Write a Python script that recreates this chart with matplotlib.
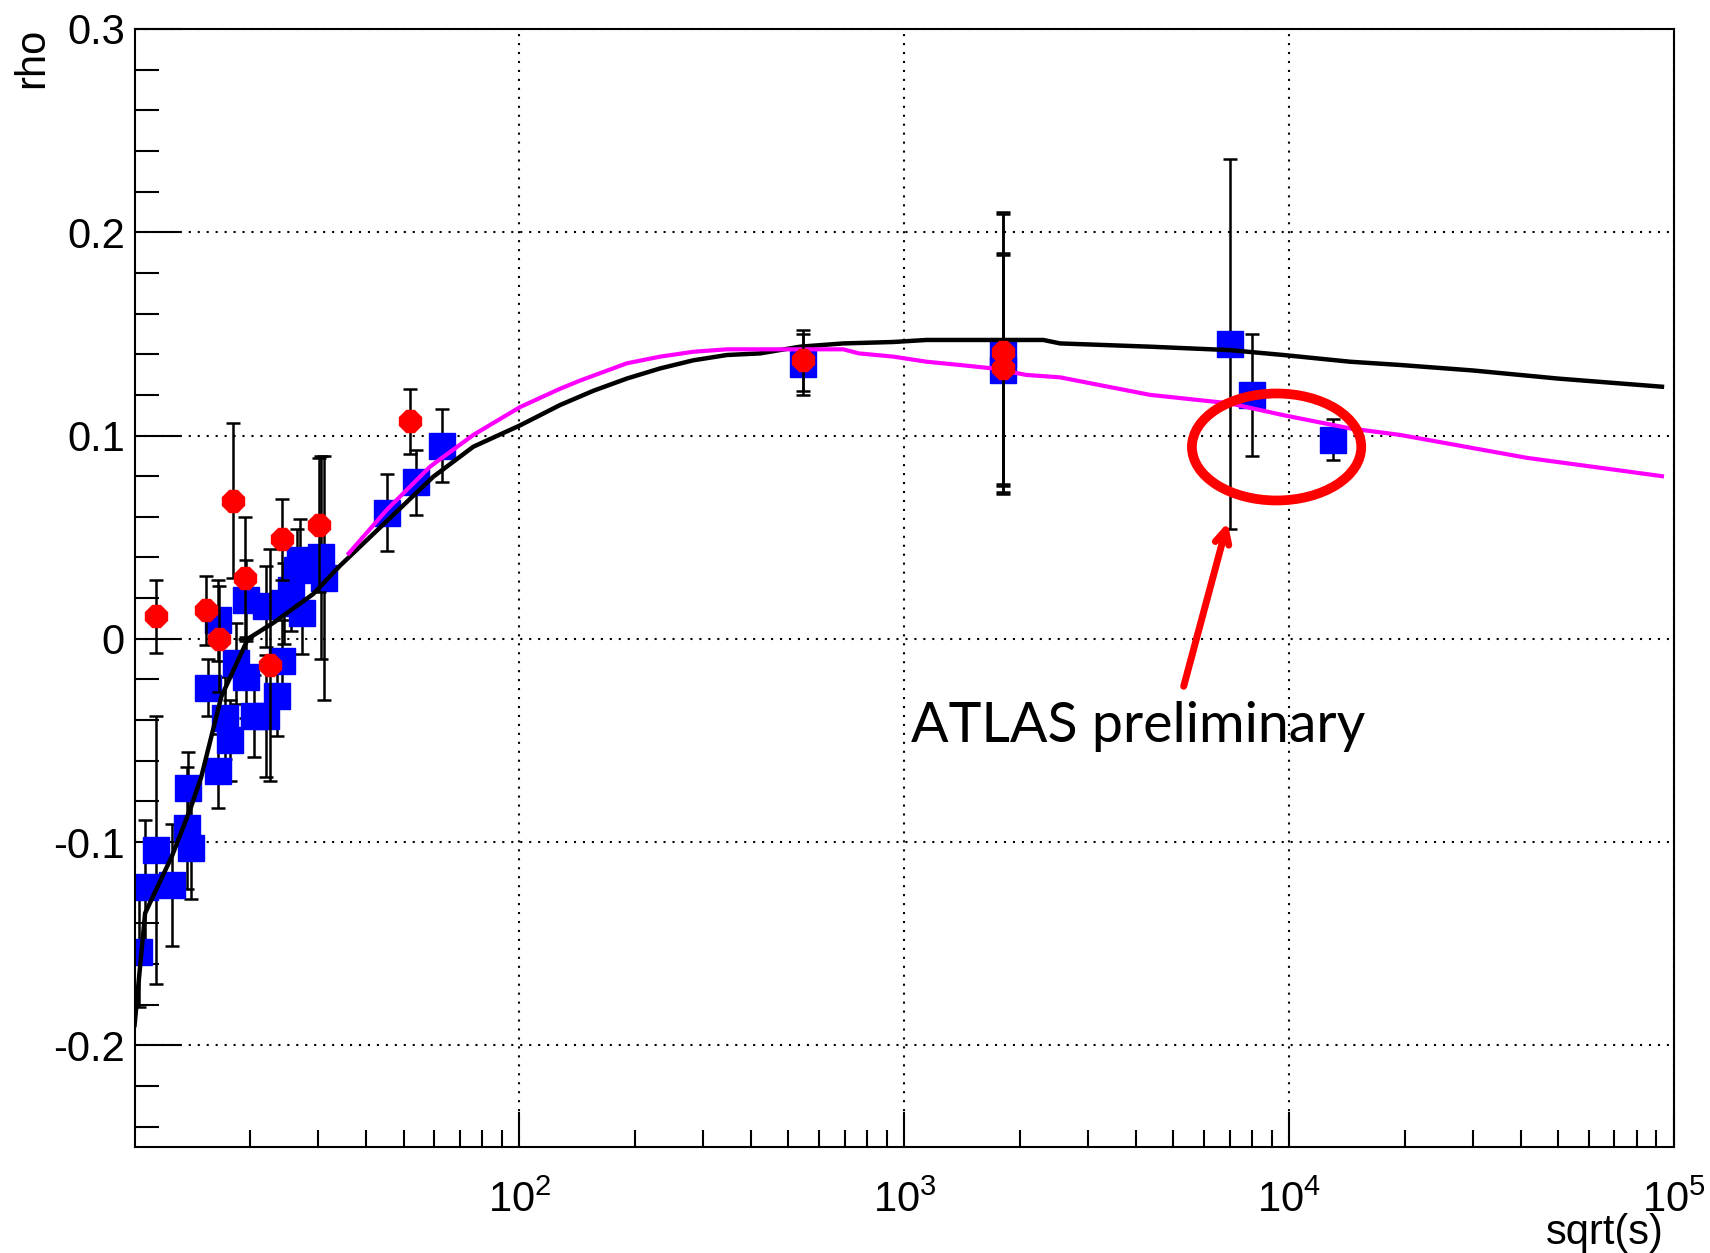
import matplotlib
matplotlib.use("Agg")
import matplotlib.pyplot as plt
from matplotlib.patches import Ellipse
from matplotlib.ticker import FixedLocator, LogLocator, NullFormatter, MultipleLocator

plt.rcParams["font.family"] = ["Liberation Sans", "DejaVu Sans"]
plt.rcParams["mathtext.fontset"] = "custom"
plt.rcParams["mathtext.rm"] = "Liberation Sans"
plt.rcParams["mathtext.it"] = "Liberation Sans:italic"
plt.rcParams["mathtext.bf"] = "Liberation Sans:bold"

# -----------------------------
# pp measurements (blue squares)
# -----------------------------
pp_sqrt_s = [10.24, 10.65, 11.4, 12.5, 13.8, 13.7, 14.0, 15.5, 16.5, 16.5,
             17.2, 17.7, 18.4, 19.5, 19.5, 20.4, 22.0, 22.0, 23.4, 24.1,
             24.4, 25.5, 26.4, 27.2, 26.9, 30.5, 31.0, 45.3, 53.7, 62.8,
             546, 1800, 1800, 7000, 8000, 13000]
pp_rho = [-0.154, -0.122, -0.104, -0.121, -0.0735, -0.093, -0.103, -0.024, -0.065, 0.009,
          -0.039, -0.050, -0.012, -0.019, 0.019, -0.038, -0.038, 0.016, -0.028, -0.011,
          0.0175, 0.024, 0.034, 0.0125, 0.039, 0.040, 0.030, 0.062, 0.077, 0.095,
          0.135, 0.140, 0.132, 0.145, 0.120, 0.098]
pp_err = [0.027, 0.033, 0.066, 0.030, 0.018, 0.030, 0.025, 0.014, 0.018, 0.020,
          0.020, 0.020, 0.020, 0.020, 0.020, 0.020, 0.030, 0.020, 0.020, 0.020,
          0.020, 0.020, 0.020, 0.020, 0.020, 0.050, 0.060, 0.019, 0.016, 0.018,
          0.015, 0.069, 0.057, 0.091, 0.030, 0.010]

# -----------------------------
# pbar-p measurements (red circles)
# -----------------------------
ppbar_sqrt_s = [11.4, 15.3, 16.6, 18.0, 19.4, 22.5, 24.2, 30.1, 52.0, 546, 1800, 1800]
ppbar_rho = [0.011, 0.014, 0.000, 0.068, 0.030, -0.013, 0.049, 0.056, 0.107, 0.137, 0.141, 0.133]
ppbar_err = [0.018, 0.017, 0.026, 0.038, 0.030, 0.057, 0.020, 0.033, 0.016, 0.015, 0.069, 0.057]

# -----------------------------
# Model predictions
# -----------------------------
fit_black_x = [10.0, 10.65, 12.5, 14.0, 14.9, 16.8, 19.7, 23.0, 29.1, 34.2,
               59.7, 75.9, 100.4, 127.5, 155.6, 190, 232, 283, 346, 422,
               536, 694, 936, 1142, 2297, 2540, 4345, 7015, 9660, 14390,
               19400, 30000, 50000, 93000]
fit_black_rho = [-0.19, -0.135, -0.107, -0.083, -0.068, -0.0285, 0.0, 0.008, 0.022, 0.036,
                 0.0797, 0.0945, 0.105, 0.115, 0.122, 0.128, 0.133, 0.137, 0.1396, 0.1404,
                 0.1437, 0.1453, 0.146, 0.147, 0.147, 0.1453, 0.1437, 0.142, 0.1396, 0.1363,
                 0.1347, 0.132, 0.128, 0.124]

fit_magenta_x = [36, 45.2, 58.6, 75.9, 100.4, 127.5, 143.6, 190, 232, 283,
                 346, 694, 762, 936, 1142, 1392, 1698, 2073, 2540, 4345,
                 7015, 9660, 14390, 19400, 41500, 93000]
fit_magenta_rho = [0.042, 0.0634, 0.0847, 0.1003, 0.114, 0.123, 0.127, 0.1355, 0.1388, 0.1412,
                   0.1424, 0.1424, 0.1404, 0.1388, 0.1363, 0.1347, 0.133, 0.1298, 0.1286, 0.120,
                   0.1158, 0.110, 0.1035, 0.1003, 0.089, 0.080]

x_ticks = [1e2, 1e3, 1e4, 1e5]
x_tick_labels = ["$10^{2}$", "$10^{3}$", "$10^{4}$", "$10^{5}$"]
y_ticks = [-0.2, -0.1, 0.0, 0.1, 0.2, 0.3]
y_tick_labels = ["-0.2", "-0.1", "0", "0.1", "0.2", "0.3"]

BLUE = "#0000FF"
RED = "#FF0000"
MAGENTA = "#FF00FF"

fig = plt.figure(figsize=(17.1, 12.53), dpi=100)
ax = fig.add_axes([0.0787, 0.0846, 0.9003, 0.8923])

ax.errorbar(pp_sqrt_s, pp_rho, yerr=pp_err, fmt="s", color=BLUE, ms=18.5,
            mec=BLUE, ecolor="black", elinewidth=1.8, capsize=5, capthick=1.8,
            zorder=2)
ax.plot(fit_black_x, fit_black_rho, color="black", linewidth=3.2, zorder=3)
ax.plot(fit_magenta_x, fit_magenta_rho, color=MAGENTA, linewidth=3.0, zorder=3.5)
ax.errorbar(ppbar_sqrt_s, ppbar_rho, yerr=ppbar_err, fmt="8", color=RED, ms=16.5,
            mec=RED, ecolor="black", elinewidth=1.8, capsize=5, capthick=1.8,
            zorder=4)

ax.set_xscale("log")
ax.set_xlim(10, 1e5)
ax.set_ylim(-0.25, 0.3)

ax.xaxis.set_major_locator(FixedLocator(x_ticks))
ax.set_xticklabels(x_tick_labels)
ax.xaxis.set_minor_locator(LogLocator(base=10, subs=range(2, 10), numticks=20))
ax.xaxis.set_minor_formatter(NullFormatter())
ax.yaxis.set_major_locator(FixedLocator(y_ticks))
ax.set_yticklabels(y_tick_labels)
ax.yaxis.set_minor_locator(MultipleLocator(0.02))

ax.tick_params(axis="both", which="both", direction="in", width=1.5,
               top=False, right=False, labelsize=30, colors="black")
ax.tick_params(axis="y", which="major", length=33, pad=7)
ax.tick_params(axis="y", which="minor", length=17)
ax.tick_params(axis="x", which="major", length=25, pad=24)
ax.tick_params(axis="x", which="minor", length=12.5)

ax.grid(True, which="major", color="black", linestyle=(0, (1, 3.3)), linewidth=1.5)
for spine in ax.spines.values():
    spine.set_linewidth(1.5)

fig.text(0.019, 0.978, "rho", rotation=90, ha="center", va="top", fontsize=30)
ax.text(0.993, -0.077, "sqrt(s)", transform=ax.transAxes, ha="right", va="center",
        fontsize=30)

# annotation: circled points and arrow
ax.add_patch(Ellipse((0.7418, 0.6261), 0.110, 0.0957, transform=ax.transAxes,
                     fill=False, edgecolor=RED, linewidth=7, zorder=6))
ax.annotate("", xy=(0.7105, 0.561), xytext=(0.681, 0.4097),
            xycoords="axes fraction", textcoords="axes fraction",
            arrowprops=dict(arrowstyle="->,head_length=1.0,head_width=0.5",
                            color=RED, linewidth=5), zorder=6)
ax.text(0.5044, 0.3623, "ATLAS preliminary", transform=ax.transAxes,
        ha="left", va="baseline", fontsize=40, family=["Lato", "DejaVu Sans"])

fig.savefig("out.png", dpi=100, facecolor="white")
